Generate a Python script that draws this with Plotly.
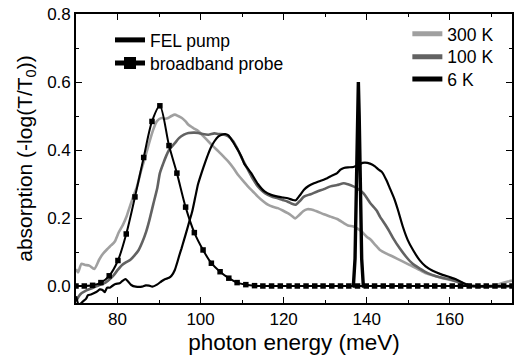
import plotly.graph_objects as go

# ---------------- data ----------------
e_300 = [70.0, 70.5, 71.3, 72.2, 73.2, 74.4, 75.6, 76.5, 77.5, 78.5, 79.3, 80.3, 81.3, 82.2, 82.7,
         83.7, 84.7, 85.7, 86.7, 87.6, 88.6, 89.5, 90.6, 91.5, 92.2, 93.0, 93.8, 94.6, 95.5, 96.4,
         97.1, 98.3, 99.5, 100.7, 101.9, 103.1, 104.3, 105.5, 106.7, 107.9, 109.0, 110.2, 111.4,
         112.6, 113.8, 115.0, 116.2, 117.4, 118.6, 119.8, 121.0, 122.0, 122.8, 123.7, 124.7, 125.7,
         126.7, 128.1, 129.7, 131.3, 132.9, 134.5, 135.5, 136.8, 137.6, 138.8, 140.0, 140.8, 142.0,
         143.2, 144.8, 146.4, 148.4, 150.3, 152.3, 154.3, 156.3, 158.3, 160.2, 162.2, 163.8, 165.5,
         167.0, 169.0, 171.0, 172.5, 174.0, 175.0]
v_300 = [0.050, 0.040, 0.065, 0.062, 0.060, 0.050, 0.078, 0.095, 0.108, 0.120, 0.130, 0.158, 0.180,
         0.205, 0.224, 0.260, 0.293, 0.340, 0.381, 0.420, 0.460, 0.485, 0.494, 0.492, 0.494, 0.500,
         0.504, 0.500, 0.494, 0.484, 0.474, 0.464, 0.455, 0.440, 0.425, 0.410, 0.396, 0.381, 0.366,
         0.347, 0.327, 0.310, 0.293, 0.278, 0.263, 0.250, 0.239, 0.233, 0.229, 0.222, 0.214, 0.206,
         0.199, 0.208, 0.220, 0.226, 0.225, 0.219, 0.211, 0.204, 0.197, 0.185, 0.178, 0.175, 0.170,
         0.160, 0.145, 0.138, 0.122, 0.106, 0.095, 0.086, 0.074, 0.062, 0.050, 0.037, 0.030, 0.023,
         0.018, 0.012, 0.006, 0.002, 0.000, 0.000, 0.002, 0.008, 0.013, 0.016]

e_100 = [70.0, 71.0, 72.5, 74.0, 75.5, 77.1, 78.3, 79.1, 80.1, 81.1, 82.1, 83.1, 84.1, 85.1, 86.0,
         86.9, 87.6, 88.6, 89.6, 90.2, 91.0, 91.8, 92.4, 93.8, 94.8, 96.0, 97.1, 98.6, 99.5, 100.5,
         101.9, 103.3, 104.3, 105.5, 106.7, 107.9, 109.0, 110.2, 111.4, 112.6, 113.8, 115.0, 116.2,
         117.4, 118.6, 119.8, 121.0, 122.0, 122.9, 123.9, 124.9, 126.5, 128.1, 129.7, 131.3, 132.9,
         134.5, 135.5, 136.8, 137.6, 139.2, 140.8, 142.4, 143.2, 144.5, 145.5, 146.4, 148.0, 149.5,
         151.0, 152.7, 154.7, 156.7, 158.7, 160.6, 162.0, 163.4, 165.0, 175.0]
v_100 = [-0.045, -0.025, -0.013, -0.006, 0.002, 0.010, 0.022, 0.032, 0.048, 0.062, 0.070, 0.077,
         0.090, 0.106, 0.130, 0.160, 0.190, 0.240, 0.290, 0.332, 0.360, 0.385, 0.400, 0.420, 0.435,
         0.445, 0.450, 0.451, 0.450, 0.447, 0.445, 0.449, 0.447, 0.446, 0.440, 0.425, 0.400, 0.370,
         0.342, 0.315, 0.293, 0.278, 0.268, 0.262, 0.258, 0.253, 0.248, 0.242, 0.239, 0.250, 0.263,
         0.270, 0.278, 0.285, 0.293, 0.297, 0.302, 0.299, 0.293, 0.288, 0.273, 0.245, 0.222, 0.204,
         0.180, 0.160, 0.140, 0.110, 0.086, 0.066, 0.052, 0.038, 0.029, 0.023, 0.018, 0.012, 0.006,
         0.000, 0.000]

e_6 = [70.0, 70.7, 71.7, 72.4, 72.9, 73.6, 74.5, 75.2, 75.7, 76.4, 76.9, 77.5, 78.1, 78.7, 79.5,
       80.5, 81.2, 81.9, 82.5, 83.3, 84.4, 85.9, 86.8, 87.6, 88.4, 89.5, 90.6, 91.4, 92.4, 93.0,
       93.8, 94.4, 95.0, 95.4, 96.0, 96.6, 97.3, 98.0, 98.7, 99.4, 100.3, 101.0, 101.9, 102.6,
       103.3, 104.3, 105.1, 105.9, 106.7, 107.5, 108.5, 109.0, 109.8, 110.5, 111.4, 112.2, 113.8,
       115.4, 117.0, 118.6, 120.0, 121.0, 122.2, 122.9, 123.8, 124.9, 126.0, 127.3, 128.8, 130.5,
       131.7, 132.9, 133.7, 134.5, 135.5, 136.8, 137.8, 139.0, 139.6, 140.8, 142.0, 142.8, 143.7,
       144.8, 145.5, 146.7, 147.5, 148.7, 149.9, 151.2, 152.7, 154.2, 155.9, 157.8, 159.8, 161.5,
       162.8, 163.8, 165.0, 175.0]
v_6 = [-0.030, -0.055, -0.045, -0.038, -0.027, -0.025, -0.020, -0.015, -0.010, -0.012, -0.018,
       -0.005, -0.005, 0.000, 0.006, 0.008, 0.015, 0.020, 0.014, 0.003, -0.002, -0.002, 0.002,
       0.001, -0.002, 0.004, 0.014, 0.020, 0.024, 0.030, 0.047, 0.070, 0.095, 0.110, 0.135, 0.160,
       0.190, 0.220, 0.260, 0.300, 0.335, 0.360, 0.390, 0.410, 0.425, 0.440, 0.445, 0.447, 0.443,
       0.430, 0.410, 0.400, 0.381, 0.360, 0.345, 0.332, 0.300, 0.278, 0.268, 0.263, 0.260, 0.258,
       0.253, 0.252, 0.265, 0.283, 0.294, 0.302, 0.309, 0.317, 0.325, 0.332, 0.342, 0.347, 0.349,
       0.350, 0.355, 0.362, 0.363, 0.360, 0.352, 0.343, 0.335, 0.310, 0.290, 0.255, 0.225, 0.175,
       0.135, 0.105, 0.077, 0.058, 0.045, 0.035, 0.027, 0.020, 0.012, 0.006, 0.000, 0.000]

e_pump = [136.6, 136.8, 137.2, 137.55, 137.8, 138.0, 138.2, 138.45, 138.8, 139.2, 139.4]
v_pump = [0.0, 0.0, 0.08, 0.30, 0.50, 0.60, 0.50, 0.30, 0.08, 0.0, 0.0]

e_probe = [70.0, 72.0, 74.0, 76.0, 78.0, 80.1, 82.1, 84.2, 86.3, 88.3, 90.2, 92.4, 94.3, 96.4,
           98.5, 100.6, 102.6, 104.7, 106.8, 108.8, 110.9, 113.0, 115.0, 117.1, 119.2, 121.3,
           123.3, 125.4, 127.5, 129.5, 131.6, 133.7, 135.7, 137.8, 139.9, 141.9, 144.0, 146.1,
           148.2, 150.2, 152.3, 154.4, 156.4, 158.5, 160.6, 162.6, 164.7, 166.8, 168.8, 170.9,
           173.0, 175.0]
v_probe = [0.0, 0.0, 0.002, 0.010, 0.030, 0.075, 0.153, 0.262, 0.378, 0.484, 0.530, 0.413, 0.332,
           0.232, 0.157, 0.106, 0.067, 0.042, 0.023, 0.010, 0.004, 0.001, 0.0, 0.0, 0.0, 0.0, 0.0,
           0.0, 0.0, 0.0, 0.0, 0.0, 0.0, 0.0, 0.0, 0.0, 0.0, 0.0, 0.0, 0.0, 0.0, 0.0, 0.0, 0.0, 0.0,
           0.0, 0.0, 0.0, 0.0, 0.0, 0.0, 0.0]

x_ticks = [80, 100, 120, 140, 160]
y_ticks = [0.0, 0.2, 0.4, 0.6, 0.8]

# ---------------- figure ----------------
FONT = "Arial, Liberation Sans, sans-serif"
fig = go.Figure()

fig.add_trace(go.Scatter(x=e_300, y=v_300, mode="lines", name="300 K", legend="legend3",
                         line=dict(color="#a0a0a0", width=2.6, shape="spline", smoothing=0.6)))
fig.add_trace(go.Scatter(x=e_100, y=v_100, mode="lines", name="100 K", legend="legend4",
                         line=dict(color="#626262", width=2.6, shape="spline", smoothing=0.6)))
fig.add_trace(go.Scatter(x=e_6, y=v_6, mode="lines", name="6 K", legend="legend5",
                         line=dict(color="#000000", width=2.2, shape="spline", smoothing=0.6)))
fig.add_trace(go.Scatter(x=e_probe, y=v_probe, mode="lines+markers", name="broadband probe",
                         legend="legend2",
                         line=dict(color="#000000", width=2.0, shape="spline", smoothing=0.8),
                         marker=dict(symbol="square", size=5.5, color="#000000")))
fig.add_trace(go.Scatter(x=e_pump, y=v_pump, mode="lines", name="FEL pump",
                         legend="legend",
                         line=dict(color="#000000", width=3.4)))

axis_common = dict(showline=True, linecolor="black", linewidth=1.6, mirror="ticks",
                   ticks="inside", ticklen=6, tickwidth=1.4, tickcolor="black",
                   showgrid=False, zeroline=False,
                   tickfont=dict(family=FONT, size=17, color="black"))

fig.update_xaxes(range=[70, 175], tickmode="array", tickvals=x_ticks,
                 ticktext=[str(t) for t in x_ticks],
                 minor=dict(dtick=10, tick0=0, ticks="inside", ticklen=3.5, tickwidth=1.2,
                            tickcolor="black"),
                 title=dict(text="photon energy (meV)", font=dict(family=FONT, size=22.5,
                                                                  color="black"), standoff=6),
                 **axis_common)
fig.update_yaxes(range=[-0.05, 0.8], tickmode="array", tickvals=y_ticks,
                 ticktext=[f"{t:.1f}" for t in y_ticks],
                 minor=dict(dtick=0.1, tick0=0, ticks="inside", ticklen=3.5, tickwidth=1.2,
                            tickcolor="black"),
                 title=dict(text="absorption (-log(T/T<sub>0</sub>))",
                            font=dict(family=FONT, size=21, color="black"), standoff=9),
                 **axis_common)

legend_font = dict(family=FONT, size=17.5, color="black")


def leg(x, y):
    return dict(x=x, y=y, xanchor="left", yanchor="middle", bgcolor="rgba(0,0,0,0)",
                font=legend_font, itemsizing="constant", borderwidth=0)


fig.update_layout(
    width=515, height=358,
    margin=dict(l=76, r=1, t=14, b=55),
    paper_bgcolor="white", plot_bgcolor="white",
    font=dict(family=FONT, color="black"),
    showlegend=True,
    legend=leg(0.078, 0.91),
    legend2=leg(0.078, 0.830),
    legend3=leg(0.760, 0.931),
    legend4=leg(0.760, 0.852),
    legend5=leg(0.760, 0.775),
)

fig.write_html("out.html", config={"displayModeBar": False},
               post_script="document.body.style.margin='0';document.body.style.padding='0';")
